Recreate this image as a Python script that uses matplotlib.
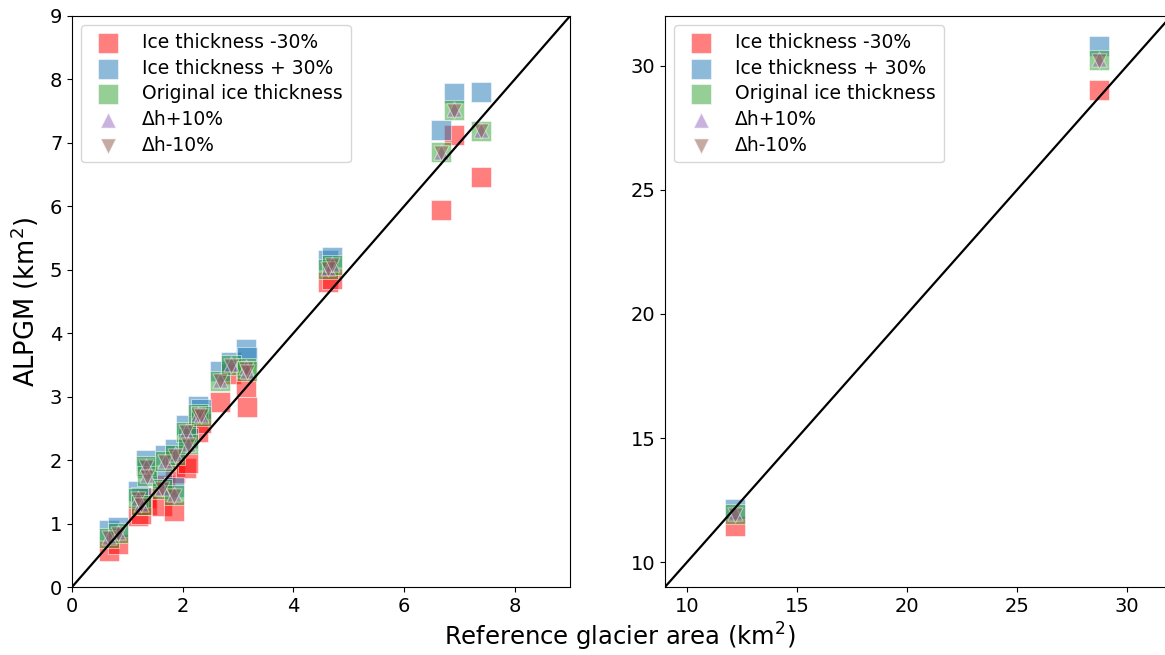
import numpy as np
import matplotlib
matplotlib.use("Agg")
import matplotlib.pyplot as plt

# reference glacier areas (km2) and ALPGM areas for each run
ref_area = [0.67, 0.83, 1.20, 1.25, 1.34, 1.36, 1.62, 1.68, 1.85, 1.86,
            2.06, 2.10, 2.28, 2.33, 2.68, 2.87, 3.14, 3.17, 4.62, 4.70,
            6.66, 6.91, 7.39, 12.16, 28.74]
orig = [0.78, 0.85, 1.40, 1.30, 1.90, 1.75, 1.55, 1.98, 1.45, 2.08,
        2.45, 2.25, 2.72, 2.70, 3.25, 3.50, 3.45, 3.40, 5.02, 5.08,
        6.85, 7.52, 7.19, 11.95, 30.22]
thick_plus30 = [0.90, 0.95, 1.52, 1.42, 2.00, 1.88, 1.72, 2.08, 1.58, 2.17,
                2.55, 2.35, 2.86, 2.80, 3.40, 3.55, 3.75, 3.62, 5.15, 5.20,
                7.20, 7.79, 7.80, 12.15, 30.81]
thick_minus30 = [0.57, 0.68, 1.12, 1.15, 1.40, 1.30, 1.28, 1.60, 1.20, 1.80,
                 1.87, 1.95, 2.45, 2.58, 2.92, 3.35, 3.15, 2.84, 4.80, 4.86,
                 5.94, 7.12, 6.46, 11.47, 29.03]
dh_plus10 = [0.79, 0.86, 1.41, 1.31, 1.91, 1.76, 1.56, 1.99, 1.46, 2.09,
             2.46, 2.26, 2.73, 2.71, 3.26, 3.51, 3.46, 3.41, 5.03, 5.09,
             6.86, 7.53, 7.20, 11.98, 30.27]
dh_minus10 = [0.77, 0.84, 1.39, 1.29, 1.89, 1.74, 1.54, 1.97, 1.44, 2.07,
              2.44, 2.24, 2.71, 2.69, 3.24, 3.49, 3.44, 3.39, 5.01, 5.07,
              6.84, 7.51, 7.18, 11.92, 30.18]

series = [
    (thick_minus30, "s", 225, "red", "Ice thickness -30%"),
    (thick_plus30, "s", 225, "tab:blue", "Ice thickness + 30%"),
    (orig, "s", 225, "tab:green", "Original ice thickness"),
    (dh_plus10, "^", 120, "tab:purple", "\u0394h+10%"),
    (dh_minus10, "v", 120, "tab:brown", "\u0394h-10%"),
]

fig = plt.figure(figsize=(11.65, 6.55), dpi=100)
ax1 = fig.add_axes([0.0618, 0.1038, 0.4275, 0.8718])
ax2 = fig.add_axes([0.5708, 0.1038, 0.4345, 0.8718])
ax2.spines["right"].set_visible(False)

for ax, lim in [(ax1, (0, 9)), (ax2, (9, 32))]:
    for vals, mk, sz, col, lab in series:
        ax.scatter(ref_area, vals, marker=mk, s=sz, c=col, alpha=0.5,
                   edgecolors="white", linewidths=0.75, label=lab)
    ax.plot(lim, lim, color="black", lw=1.6)
    ax.set_xlim(lim)
    ax.set_ylim(lim)
    ax.tick_params(labelsize=14)
    ax.legend(loc="upper left", fontsize=13.5, scatterpoints=1,
              labelspacing=0.36, handletextpad=0.85, borderpad=0.4)

ax2.set_xticks([10, 15, 20, 25, 30])
ax2.set_yticks([10, 15, 20, 25, 30])
ax1.set_ylabel("ALPGM (km$^2$)", fontsize=18.5, labelpad=6)
fig.text(0.532, 0.027, "Reference glacier area (km$^2$)", fontsize=17.5,
         ha="center", va="center")

fig.savefig("out.png", dpi=100)
